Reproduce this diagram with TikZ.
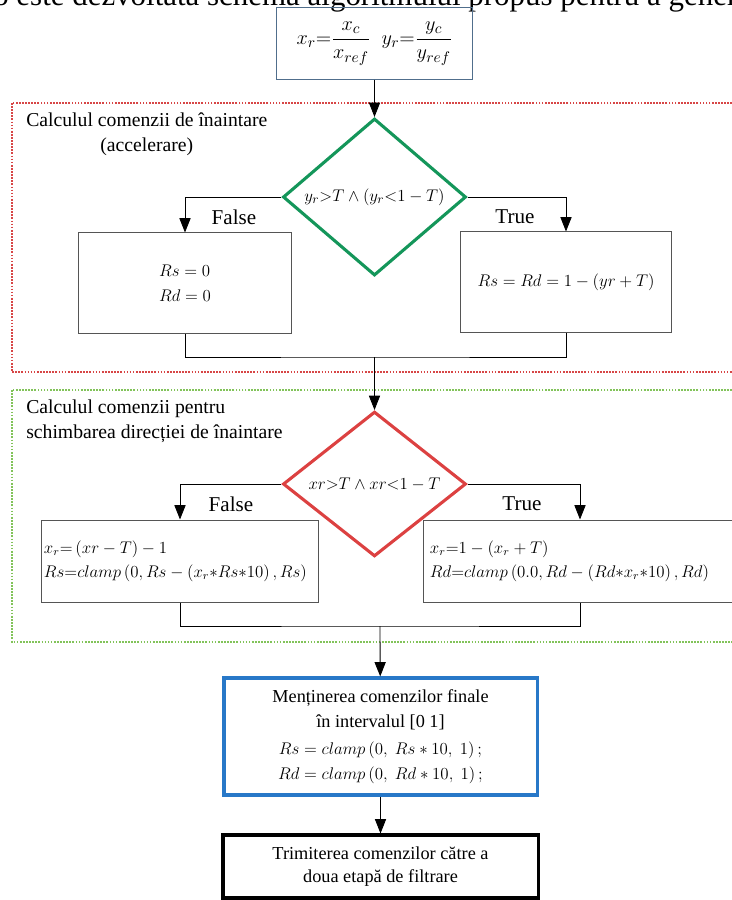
\documentclass[tikz,border=0pt]{standalone}
\usepackage{fontspec}
\setmainfont{Liberation Serif}
\usepackage{amsmath}
\usetikzlibrary{arrows.meta,shapes.geometric,positioning}
\definecolor{boxgray}{RGB}{85,85,85}
\definecolor{topblue}{RGB}{80,110,140}
\definecolor{frred}{RGB}{215,70,70}
\definecolor{frgreen}{RGB}{130,195,90}
\definecolor{dgreen}{RGB}{20,150,90}
\definecolor{dred}{RGB}{220,65,65}
\definecolor{bblue}{RGB}{40,120,200}

\begin{document}
\begin{tikzpicture}[x=0.025cm,y=-0.025cm,
  proc/.style={draw=boxgray, line width=0.7pt, rectangle, inner sep=3pt, font=\fontsize{13}{17.5}\selectfont},
  cond/.style={diamond, inner sep=0pt, line width=2.2pt, font=\fontsize{13}{15}\selectfont},
  flow/.style={draw, line width=0.6pt, -{Triangle[length=0.36cm,width=0.28cm]}},
  link/.style={draw, line width=0.6pt},
  lbl/.style={font=\fontsize{15}{18}\selectfont},
  ttl/.style={font=\fontsize{14}{17.7}\selectfont, anchor=north west, inner sep=0pt},
  frame/.style={densely dotted, line width=1.2pt}]
\useasboundingbox (0,0) rectangle (731,900);

\node[font=\fontsize{22}{26}\selectfont, anchor=base west, inner sep=0pt] (hdr) at (-7,6)
  {o este dezvoltată schema algoritmului propus pentru a gener};

\node[draw=topblue, line width=0.7pt, minimum width=4.875cm, minimum height=1.775cm,
  font=\fontsize{15}{18}\selectfont] (src) at (374.5,43.5)
  {$x_r{=}\dfrac{x_c}{x_{ref}}\;\; y_r{=}\dfrac{y_c}{y_{ref}}$};

% accelerare
\draw[frame, frred] (12,103) rectangle (745,372);
\node[ttl, align=center] (ttlacc) at (26,113) {Calculul comenzii de înaintare\\(accelerare)};
\node[cond, draw=dgreen, minimum width=4.575cm, minimum height=3.25cm] (dacc) at (374.5,197)
  {$y_r{>}T\wedge\left(y_r{<}1-T\right)$};
\node[proc, minimum width=5.3cm, minimum height=2.5cm, align=left] (facc) at (185,283)
  {$Rs=0$\\$Rd=0$};
\node[proc, minimum width=5.25cm, minimum height=2.5cm] (tacc) at (566,282)
  {$Rs=Rd=1-\left(yr+T\right)$};
\node[lbl] (lfacc) at (234,217) {False};
\node[lbl] (ltacc) at (515,217) {True};
\coordinate (macc) at (374.5,357);
\draw[flow] (src) -- (dacc);
\draw[flow] (dacc.west) -| (facc.north);
\draw[flow] (dacc.east) -| (tacc.north);
\draw[link] (facc.south) |- (macc) -| (tacc.south);

% directie
\draw[frame, frgreen] (12,390) rectangle (745,642);
\node[ttl, align=left] (ttldir) at (26,400) {Calculul comenzii pentru\\schimbarea direcției de înaintare};
\node[cond, draw=dred, minimum width=4.575cm, minimum height=2.95cm] (ddir) at (374.5,484)
  {$xr{>}T\wedge xr{<}1-T$};
\node[proc, inner xsep=1.5pt, minimum width=6.9cm, minimum height=2.05cm, text width=6.8cm, align=left,
  font=\fontsize{12}{17}\selectfont] (fdir) at (180,561)
  {$x_r{=}\left(xr-T\right)-1$\\$Rs{=}clamp\left(0,Rs-\left(x_r{*}Rs{*}10\right),Rs\right)$};
\node[proc, minimum width=7.8cm, minimum height=2.05cm, text width=7.5cm, align=left,
  font=\fontsize{12}{17}\selectfont] (tdir) at (580,561)
  {$x_r{=}1-\left(x_r+T\right)$\\$Rd{=}clamp\left(0.0,Rd-\left(Rd{*}x_r{*}10\right),Rd\right)$};
\node[lbl] (lfdir) at (231,504) {False};
\node[lbl] (ltdir) at (522,504) {True};
\coordinate (mdir) at (380,626);
\draw[flow] (macc) -- (ddir);
\draw[flow] (ddir.west) -| (fdir.north);
\draw[flow] (ddir.east) -| (tdir.north);
\draw[link] (fdir.south) |- (mdir) -| (tdir.south);

% final
\node[proc, draw=bblue, line width=2.2pt, minimum width=7.825cm, minimum height=2.925cm, align=center] (keep) at (380.5,736.5)
  {Menținerea comenzilor finale\\în intervalul [0 1]\\[2pt]
   $Rs=clamp\left(0,\ Rs*10,\ 1\right);$\\$Rd=clamp\left(0,\ Rd*10,\ 1\right);$};
\node[proc, draw=black, line width=2.2pt, minimum width=7.875cm, minimum height=1.575cm, align=center,
  font=\fontsize{13}{16}\selectfont] (send) at (380.5,866.5)
  {Trimiterea comenzilor către a\\doua etapă de filtrare};
\draw[flow] (mdir) -- (keep);
\draw[flow] (keep) -- (send);
\end{tikzpicture}
\end{document}
